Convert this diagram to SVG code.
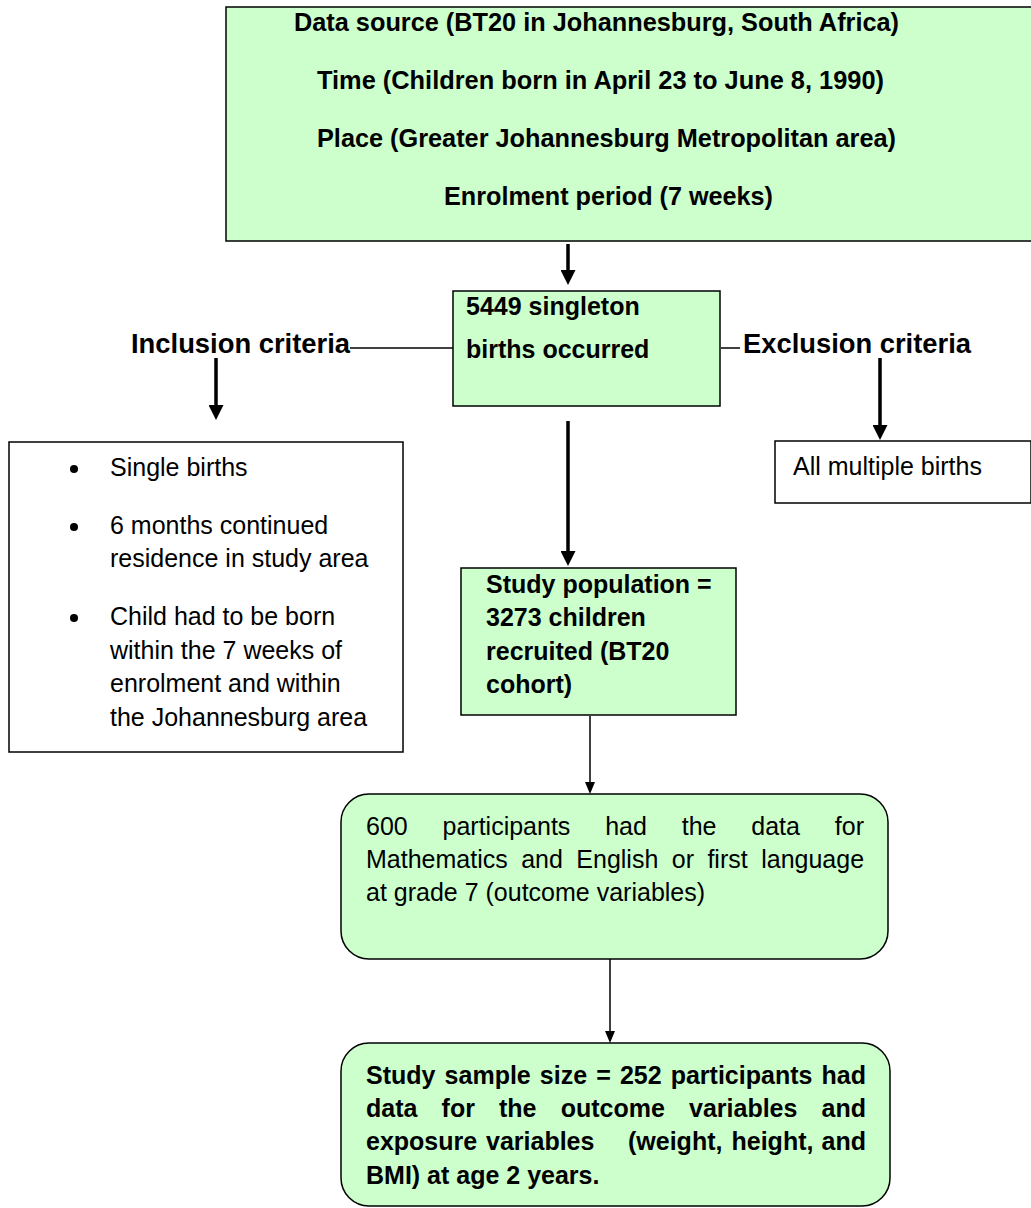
<svg xmlns="http://www.w3.org/2000/svg" width="1031" height="1208" viewBox="0 0 1031 1208">
<style>
text{font-family:"Liberation Sans",Arial,sans-serif;font-size:25px;fill:#000}
.b{font-weight:bold}
.h{font-weight:bold;font-size:27px}
.g{fill:#CCFFCC;stroke:#000;stroke-width:1.5}
.w{fill:#fff;stroke:#000;stroke-width:1.5}
.thick{stroke:#000;stroke-width:3.5;fill:none}
.thin{stroke:#000;stroke-width:1.5;fill:none}
</style>
<defs>
<marker id="ah" viewBox="0 0 15 15" refX="3" refY="7.5" markerWidth="15" markerHeight="15" markerUnits="userSpaceOnUse" orient="auto"><path d="M0,0 L15,7.5 L0,15 z" fill="#000"/></marker>
<marker id="at" viewBox="0 0 12 10" refX="2" refY="5" markerWidth="12" markerHeight="10" markerUnits="userSpaceOnUse" orient="auto"><path d="M0,0 L12,5 L0,10 z" fill="#000"/></marker>
</defs>
<g id="connectors">
<line class="thick" x1="568" y1="244" x2="568" y2="273" marker-end="url(#ah)"/>
<line class="thin" x1="350" y1="348" x2="453" y2="348"/>
<line class="thin" x1="721" y1="348" x2="740" y2="348"/>
<line class="thick" x1="216" y1="358" x2="216" y2="408" marker-end="url(#ah)"/>
<line class="thick" x1="880" y1="358" x2="880" y2="428" marker-end="url(#ah)"/>
<line class="thick" x1="568" y1="421" x2="568" y2="554" marker-end="url(#ah)"/>
<line class="thin" x1="590" y1="716" x2="590" y2="784" marker-end="url(#at)"/>
<line class="thin" x1="610" y1="959" x2="610" y2="1033" marker-end="url(#at)"/>
</g>
<g id="data-source">
<rect class="g" x="226" y="7" width="820" height="234"/>
<text class="b" x="294" y="31" textLength="605" lengthAdjust="spacingAndGlyphs">Data source (BT20 in Johannesburg, South Africa)</text>
<text class="b" x="317" y="89" textLength="567" lengthAdjust="spacingAndGlyphs">Time (Children born in April 23 to June 8, 1990)</text>
<text class="b" x="317" y="147" textLength="579" lengthAdjust="spacingAndGlyphs">Place (Greater Johannesburg Metropolitan area)</text>
<text class="b" x="444" y="205" textLength="329" lengthAdjust="spacingAndGlyphs">Enrolment period (7 weeks)</text>
</g>
<g id="births">
<rect class="g" x="453" y="291" width="267" height="115"/>
<text class="b" x="466" y="315">5449 singleton</text>
<text class="b" x="466" y="358">births occurred</text>
</g>
<g id="inclusion-label"><text class="h" x="131" y="353" textLength="219" lengthAdjust="spacingAndGlyphs">Inclusion criteria</text></g>
<g id="exclusion-label"><text class="h" x="743" y="353" textLength="228" lengthAdjust="spacingAndGlyphs">Exclusion criteria</text></g>
<g id="inclusion">
<rect class="w" x="9" y="442" width="394" height="310"/>
<circle cx="74" cy="469" r="4"/>
<circle cx="74" cy="527" r="4"/>
<circle cx="74" cy="618" r="4"/>
<text x="110" y="476">Single births</text>
<text x="110" y="534">6 months continued</text>
<text x="110" y="567">residence in study area</text>
<text x="110" y="625">Child had to be born</text>
<text x="110" y="659">within the 7 weeks of</text>
<text x="110" y="692">enrolment and within</text>
<text x="110" y="726">the Johannesburg area</text>
</g>
<g id="exclusion">
<rect class="w" x="775" y="441" width="256" height="62"/>
<text x="793" y="475">All multiple births</text>
</g>
<g id="study-population">
<rect class="g" x="461" y="568" width="275" height="147"/>
<text class="b" x="486" y="593">Study population =</text>
<text class="b" x="486" y="626">3273 children</text>
<text class="b" x="486" y="660">recruited (BT20</text>
<text class="b" x="486" y="693">cohort)</text>
</g>
<g id="participants-600">
<rect class="g" x="341" y="794" width="547" height="165" rx="28" ry="28"/>
<text y="835"><tspan x="366">600</tspan><tspan x="442.5">participants</tspan><tspan x="605.2">had</tspan><tspan x="681.7">the</tspan><tspan x="751.3">data</tspan><tspan x="834.8">for</tspan></text>
<text y="868"><tspan x="366">Mathematics</tspan><tspan x="521.2">and</tspan><tspan x="576.3">English</tspan><tspan x="671.8">or</tspan><tspan x="707.4">first</tspan><tspan x="761.2">language</tspan></text>
<text x="366" y="901">at grade 7 (outcome variables)</text>
</g>
<g id="study-sample">
<rect class="g" x="341" y="1043" width="549" height="163" rx="28" ry="28"/>
<text class="b" y="1084"><tspan x="366">Study</tspan><tspan x="444.6">sample</tspan><tspan x="539.8">size</tspan><tspan x="596.2">=</tspan><tspan x="619.9">252</tspan><tspan x="670.7">participants</tspan><tspan x="821.5">had</tspan></text>
<text class="b" y="1117"><tspan x="366">data</tspan><tspan x="441.6">for</tspan><tspan x="499">the</tspan><tspan x="560.7">outcome</tspan><tspan x="689">variables</tspan><tspan x="821.6">and</tspan></text>
<text class="b" y="1150"><tspan x="366">exposure</tspan><tspan x="486">variables</tspan><tspan x="628">(weight,</tspan><tspan x="731.5">height,</tspan><tspan x="821.5">and</tspan></text>
<text class="b" x="366" y="1184">BMI) at age 2 years.</text>
</g>
</svg>
